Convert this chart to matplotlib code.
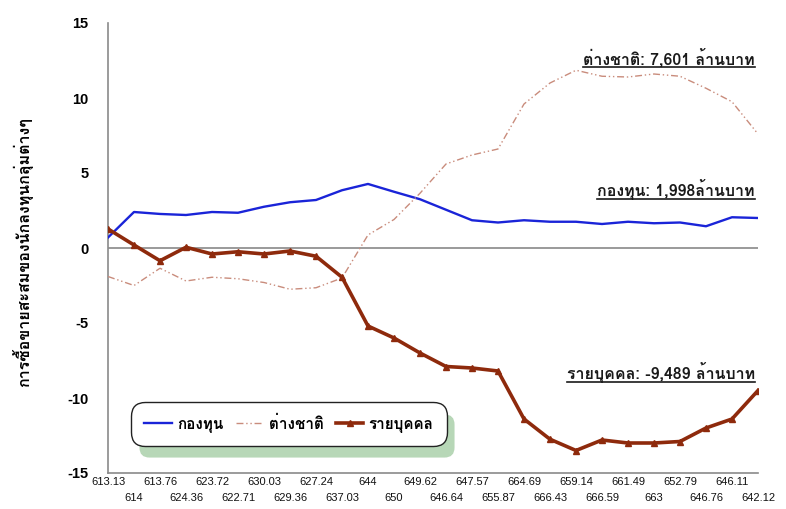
import matplotlib
matplotlib.use("Agg")
import matplotlib.pyplot as plt
from matplotlib import font_manager
from matplotlib.ft2font import FT2Font
from matplotlib.patches import FancyBboxPatch
from matplotlib.lines import Line2D

# ---------------- data ----------------
categories = ["613.13", "614", "613.76", "624.36", "623.72", "622.71", "630.03", "629.36",
              "627.24", "637.03", "644", "650", "649.62", "646.64", "647.57", "655.87",
              "664.69", "666.43", "659.14", "666.59", "661.49", "663", "652.79", "646.76",
              "646.11", "642.12"]
fund = [0.7, 2.4, 2.27, 2.2, 2.4, 2.35, 2.75, 3.05, 3.2, 3.85, 4.27, 3.75, 3.25, 2.55,
        1.85, 1.7, 1.85, 1.75, 1.75, 1.6, 1.75, 1.65, 1.7, 1.45, 2.05, 2.0]
foreign = [-1.9, -2.5, -1.35, -2.2, -1.95, -2.05, -2.3, -2.75, -2.65, -2.0, 0.87, 1.9,
           3.65, 5.6, 6.2, 6.6, 9.6, 11.0, 11.85, 11.45, 11.4, 11.6, 11.45, 10.65, 9.75, 7.6]
individual = [1.27, 0.2, -0.85, 0.05, -0.4, -0.25, -0.4, -0.2, -0.55, -1.95, -5.2, -6.0,
              -7.0, -7.9, -8.0, -8.2, -11.4, -12.75, -13.5, -12.8, -13.0, -13.0, -12.9,
              -12.0, -11.4, -9.5]
series_names = ["กองทุน", "ต่างชาติ", "รายบุคคล"]
annotations = ["ต่างชาติ: 7,601 ล้านบาท", "กองทุน: 1,998ล้านบาท", "รายบุคคล: -9,489 ล้านบาท"]
y_label = "การซื้อขายสะสมของนักลงทุนกลุ่มต่างๆ"
y_ticks = [-15, -10, -5, 0, 5, 10, 15]

# ---------------- fonts ----------------
def find_thai_fonts():
    found = []
    for f in font_manager.fontManager.ttflist:
        try:
            cm = FT2Font(f.fname).get_charmap()
        except Exception:
            continue
        if 0x0E01 in cm and 0x0E17 in cm:
            found.append(f)
    return found

thai_names = []
for f in find_thai_fonts():
    if f.name not in thai_names:
        thai_names.append(f.name)
family = thai_names + ["Liberation Sans", "DejaVu Sans"]
plt.rcParams["font.family"] = family

# ---------------- figure ----------------
W, H = 786, 509
fig = plt.figure(figsize=(W / 100, H / 100), dpi=100)
ax = fig.add_axes([108 / W, 1 - 473 / H, (758 - 108) / W, (473 - 23) / H])

x = list(range(len(categories)))
ax.plot(x, fund, color="#1a24d8", lw=1.7, label=series_names[0], zorder=3)
ax.plot(x, foreign, color="#c98c7c", lw=1.0, ls=(0, (5, 2, 1, 2, 1, 2)),
        label=series_names[1], zorder=3)
ax.plot(x, individual, color="#8e2a0c", lw=2.6, marker="^", ms=5,
        label=series_names[2], zorder=4)

ax.axhline(0, color="#9a9a9a", lw=1.4, zorder=1)

ax.set_xlim(0, len(categories) - 1)
ax.set_ylim(-15, 15)
ax.set_yticks(y_ticks)
ax.set_yticklabels([str(v) for v in y_ticks], fontweight="bold", fontsize=10.5,
                   family=["Liberation Sans"])
ax.tick_params(axis="y", length=0, pad=14)

ax.set_xticks(x[0::2])
ax.set_xticklabels(categories[0::2], fontsize=8, family=["Liberation Sans"], color="#111111")
ax.set_xticks(x[1::2], minor=True)
ax.set_xticklabels(categories[1::2], minor=True, fontsize=8, family=["Liberation Sans"],
                   color="#111111")
ax.tick_params(axis="x", which="major", length=0, pad=3)
ax.tick_params(axis="x", which="minor", length=0, pad=14.5)

for s in ["top", "right"]:
    ax.spines[s].set_visible(False)
for s in ["left", "bottom"]:
    ax.spines[s].set_color("#8a8a8a")
    ax.spines[s].set_linewidth(1.2)

ax.set_ylabel(y_label, fontsize=11.5, fontweight="bold")
ax.yaxis.set_label_coords(-0.115, 0.49)

# annotations
ann_y = [0.922, 0.629, 0.224]
texts = []
for t, yy in zip(annotations, ann_y):
    texts.append(ax.text(0.995, yy, t, transform=ax.transAxes, ha="right", va="center",
                         fontsize=11.5, fontweight="bold", color="#1a1a1a"))

# legend
leg = ax.legend(loc="center", bbox_to_anchor=((289 - 108) / 650, (473 - 424) / 450),
                ncol=3, frameon=True, fancybox=True, framealpha=1.0,
                prop={"weight": "bold", "size": 11, "family": family},
                handlelength=1.8, columnspacing=0.8, handletextpad=0.35,
                borderpad=0.85, borderaxespad=0, edgecolor="#222222")
leg.get_frame().set_linewidth(1.0)
leg.get_frame().set_boxstyle("round,pad=0,rounding_size=0.9")
leg.set_zorder(6)

fig.canvas.draw()
r = fig.canvas.get_renderer()
bb = leg.get_frame().get_window_extent(r)
shadow = FancyBboxPatch((bb.x0 + 8, bb.y0 - 12), bb.width, bb.height,
                        boxstyle="round,pad=0,rounding_size=10", transform=None,
                        facecolor="#b7d7b7", edgecolor="none", zorder=5)
ax.add_artist(shadow)

for t in texts:
    tb = t.get_window_extent(r)
    ln = Line2D([tb.x0, tb.x1], [tb.y0 + 1, tb.y0 + 1], transform=None,
                color="#1a1a1a", lw=1.2)
    fig.add_artist(ln)

fig.savefig("out.png", dpi=100)
